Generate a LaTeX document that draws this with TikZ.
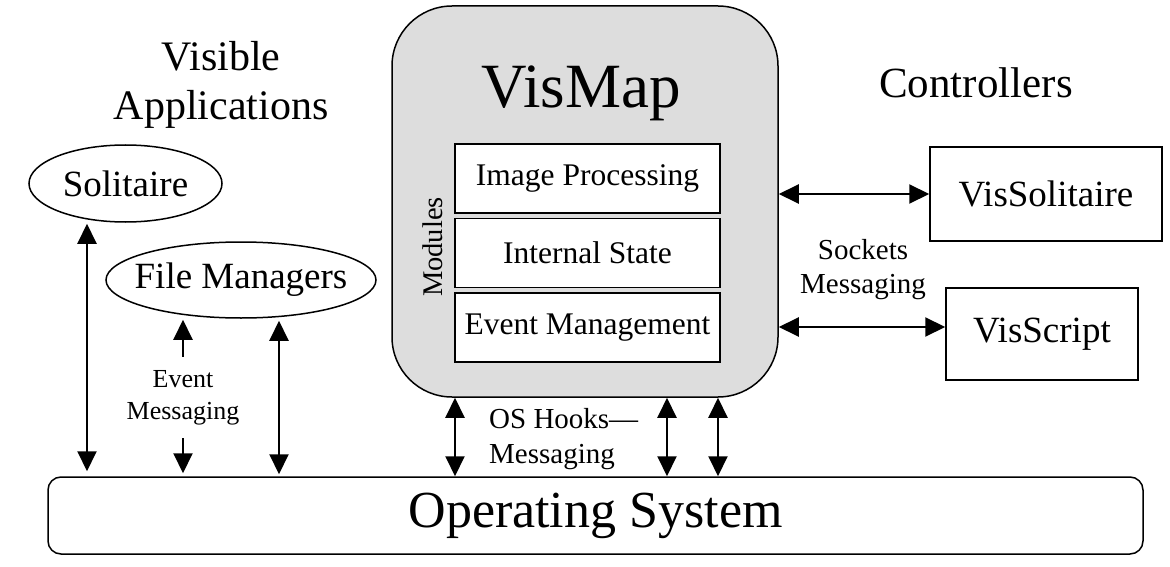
\documentclass[tikz,border=0pt]{standalone}
\usepackage{fontspec}
\setmainfont{Liberation Serif}
\usetikzlibrary{arrows.meta,shapes.geometric,calc}
\definecolor{vmgray}{RGB}{221,221,221}
\begin{document}
\begin{tikzpicture}[x=1pt,y=-1pt,
  tipa/.tip={Triangle[width=19pt,length=20pt]},
  arr/.style={line width=2pt,{tipa}-{tipa}},
  arrone/.style={line width=2pt,-{tipa}},
  modbox/.style={draw,line width=1.5pt,fill=white,minimum width=265pt,minimum height=69pt,inner sep=0pt,font=\fontsize{31.5}{36}\selectfont},
  cbox/.style={draw,line width=1.5pt,inner sep=0pt,font=\fontsize{37}{42}\selectfont},
  ell/.style={draw,ellipse,line width=1.5pt,inner sep=0pt,font=\fontsize{37}{42}\selectfont},
  lbl/.style={inner sep=0pt,align=center,font=\fontsize{29}{34}\selectfont}
]
\useasboundingbox (0,0) rectangle (1170,567);

% VisMap
\node[draw,line width=1.5pt,fill=vmgray,rounded corners=60pt,minimum width=386pt,minimum height=391pt,inner sep=0pt] (vm) at (585,201.5) {};
\node[anchor=base,inner sep=0pt,font=\fontsize{63}{70}\selectfont] (vmt) at (581,108) {VisMap};
\node[modbox] (ip) at (587.5,178.5) {Image Processing};
\node[modbox] (is) at (587.5,253) {Internal State};
\node[modbox] (em) at (587.5,327.5) {Event Management};
\node[rotate=90,inner sep=0pt,font=\fontsize{28.5}{32}\selectfont] (modl) at (433,247) {Modules};

% Operating system
\node[draw,line width=1.5pt,rounded corners=13pt,minimum width=1095pt,minimum height=77pt,inner sep=0pt,font=\fontsize{52}{60}\selectfont] (os) at (595.5,515.5) {\raisebox{-3pt}{Operating System}};

% Visible applications
\node[inner sep=0pt,align=center,font=\fontsize{42}{49}\selectfont] (va) at (221,84.7) {Visible\\Applications};
\node[ell,minimum width=193pt,minimum height=77pt] (sol) at (125.5,183.5) {Solitaire};
\node[ell,minimum width=270pt,minimum height=76pt] (fm) at (241,280) {\makebox[0pt]{File Managers}};
\node[lbl,font=\fontsize{26}{32}\selectfont,minimum height=81pt] (evm) at (183,397.5) {Event\\Messaging};

% Controllers
\node[anchor=base,inner sep=0pt,font=\fontsize{43}{49}\selectfont] (ctl) at (976,98) {Controllers};
\node[cbox,minimum width=232pt,minimum height=94pt] (vs) at (1046,194) {VisSolitaire};
\node[cbox,minimum width=192pt,minimum height=92pt] (vsc) at (1042,334) {VisScript};
\node[lbl] (sock) at (863,269.3) {Sockets\\Messaging};

% OS hooks label
\node[anchor=west,inner sep=0pt,align=left,font=\fontsize{29}{35}\selectfont] (hk) at (489,438.8) {OS Hooks---\\Messaging};

% connectors: controllers
\draw[arr] (vm.east |- vs.west) -- (vs.west);
\coordinate (vsa) at ($(vsc.west)+(0,-7)$);
\draw[arr] (vsa -| vm.east) -- (vsa);

% connectors: OS hooks
\coordinate (h1) at ([xshift=-130pt]vm.south);
\coordinate (h2) at ([xshift=82pt]vm.south);
\coordinate (h3) at ([xshift=133pt]vm.south);
\draw[arr] (h1) -- (h1 |- os.north);
\draw[arr] (h2) -- (h2 |- os.north);
\draw[arr] (h3) -- (h3 |- os.north);

% connectors: applications
\coordinate (s1) at ([xshift=-38.5pt]sol.south);
\draw[arr,shorten <=1pt,shorten >=5pt] (s1) -- (s1 |- os.north);
\coordinate (f2) at ([xshift=38pt]fm.south);
\draw[arr,shorten <=2pt,shorten >=2pt] (f2) -- (f2 |- os.north);
\draw[arrone,shorten >=1pt] (evm.north) -- (evm.north |- fm.south);
\draw[arrone,shorten >=3pt] (evm.south) -- (evm.south |- os.north);
\end{tikzpicture}
\end{document}
